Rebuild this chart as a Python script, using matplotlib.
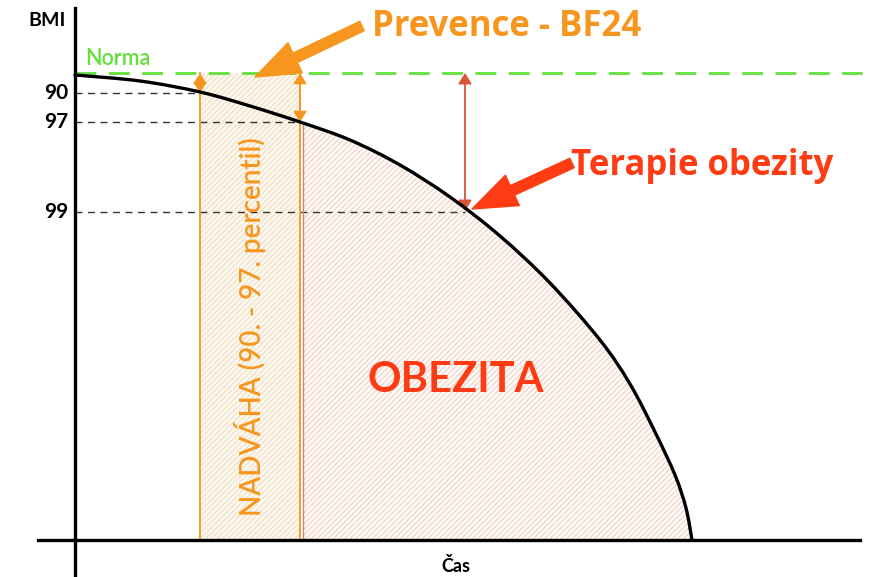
import matplotlib
matplotlib.use("Agg")
import matplotlib.pyplot as plt
from matplotlib.patches import FancyArrowPatch, PathPatch
from matplotlib.path import Path
import numpy as np

plt.rcParams['font.family'] = ['Lato', 'DejaVu Sans']
plt.rcParams['hatch.linewidth'] = 0.6

# ---- data (time t, BMI height h) ----
curve_t = [0, 65, 125, 175, 225, 275, 325, 375, 425, 475, 525, 555, 580, 600, 611, 617]
curve_h = [465, 459, 448, 434, 418, 400, 375, 343, 304, 257, 200, 156, 108, 65, 32, 0]
tick_labels = ['90', '97', '99']
tick_h = [447, 418, 328]
tick_t = [125, 225, 390]
norma_h = 467
band_t = [125, 225]
obez_start_t = 228
therapy_t = 390

ORANGE = '#f7961e'
RED = '#ff3b14'
GREEN = '#62e03c'

fig = plt.figure(figsize=(8.71, 5.77), dpi=100)
ax = fig.add_axes([0, 0, 1, 1])
ax.set_xlim(-75, 796)
ax.set_ylim(-37, 540)
ax.axis('off')

ct = np.array(curve_t, float)
ch = np.array(curve_h, float)


def smooth_path(xs, ys):
    """Catmull-Rom spline through the points, as a cubic Bezier Path."""
    pts = np.column_stack([xs, ys])
    verts = [pts[0]]
    codes = [Path.MOVETO]
    n = len(pts)
    for i in range(n - 1):
        p0 = pts[i - 1] if i > 0 else pts[i]
        p1 = pts[i]
        p2 = pts[i + 1]
        p3 = pts[i + 2] if i + 2 < n else pts[i + 1]
        c1 = p1 + (p2 - p0) / 6.0
        c2 = p2 - (p3 - p1) / 6.0
        verts += [c1, c2, p2]
        codes += [Path.CURVE4] * 3
    return verts, codes


# orange band (nadvaha)
bt = np.array(band_t, float)
ax.fill_between(bt, 0, norma_h, facecolor='#fcf7ee', edgecolor='#ecd9b8',
                hatch='//////', linewidth=0, zorder=1)
for x in band_t:
    ax.plot([x, x], [0, norma_h], color=ORANGE, lw=1.3, zorder=3)

# obesity region (under the smooth curve, right of start)
mask = ct >= obez_start_t
h0 = float(np.interp(obez_start_t, ct, ch))
ot = np.concatenate([[obez_start_t], ct[mask]])
oh = np.concatenate([[h0], ch[mask]])
v, c = smooth_path(ot, oh)
v = v + [np.array([obez_start_t, 0.0]), np.array([obez_start_t, h0])]
c = c + [Path.LINETO, Path.CLOSEPOLY]
ax.add_patch(PathPatch(Path(v, c), facecolor='#fefaf8', edgecolor='#eec3b5',
                       hatch='//////', linewidth=0, zorder=1))
ax.plot([obez_start_t, obez_start_t], [0, h0], color='#d9826e', lw=1.0, zorder=3)

# dashed reference lines
for t, h in zip(tick_t, tick_h):
    ax.plot([0, t], [h, h], color='#333333', lw=1.0, ls=(0, (5, 4)), zorder=2)

# norma line
ax.plot([0, 787], [norma_h, norma_h], color=GREEN, lw=2.0, ls=(0, (7.5, 4.5)), zorder=4)

# curve
v, c = smooth_path(ct, ch)
ax.add_patch(PathPatch(Path(v, c), facecolor='none', edgecolor='black', lw=2.4,
                       zorder=5, capstyle='round'))

# axes lines
ax.plot([0, 0], [-35, 532], color='black', lw=2.4, zorder=6)
ax.plot([-37, 785], [0, 0], color='black', lw=2.4, zorder=6)


# double arrows
def darrow(x, y0, y1, color, lw=1.2):
    a = FancyArrowPatch((x, y0), (x, y1), arrowstyle='<|-|>,head_length=4,head_width=2.5',
                        color=color, lw=lw, mutation_scale=1.6, shrinkA=0, shrinkB=0, zorder=4)
    ax.add_patch(a)


darrow(band_t[0], tick_h[0], norma_h, ORANGE)
darrow(band_t[1], tick_h[1], norma_h, ORANGE)
darrow(therapy_t, tick_h[2] + 1, norma_h, '#d9553a', lw=1.3)


# big arrows
def big_arrow(p0, p1, color):
    a = FancyArrowPatch(p0, p1, arrowstyle='simple,head_length=32,head_width=24,tail_width=7.5',
                        color=color, mutation_scale=1, shrinkA=0, shrinkB=0, zorder=7)
    ax.add_patch(a)


big_arrow((287, 514), (180, 463), ORANGE)
big_arrow((497, 377), (397, 331), RED)

# text
ax.text(-28, 520, 'BMI', fontsize=14, fontweight='bold', ha='center', va='center')
for lab, h in zip(tick_labels, tick_h):
    ax.text(-7, h, lab, fontsize=15, fontweight='bold', ha='right', va='center')
ax.text(10, 471, 'Norma', fontsize=15.5, color=GREEN, fontweight='semibold', ha='left', va='bottom')
ax.text(297, 504, 'Prevence - BF24', fontsize=25, fontweight='bold', color=ORANGE,
        ha='left', va='baseline', family=['Open Sans', 'DejaVu Sans'])
ax.text(496, 365, 'Terapie obezity', fontsize=25, fontweight='bold', color=RED,
        ha='left', va='baseline', family=['Open Sans', 'DejaVu Sans'])
ax.text(292, 160, 'OBEZITA', fontsize=30, fontweight='bold', color=RED, ha='left', va='center')
ax.text(175, 213, 'NADVÁHA (90. - 97. percentil)', fontsize=20, color=ORANGE, rotation=90,
        ha='center', va='center', fontweight='semibold', zorder=8)
ax.text(381, -26, 'Čas', fontsize=13, fontweight='bold', ha='center', va='center')

fig.savefig('out.png', dpi=100)
